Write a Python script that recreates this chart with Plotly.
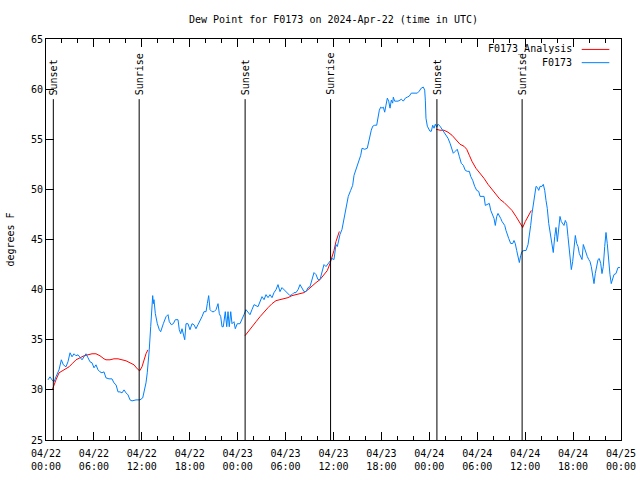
import pandas as pd
import plotly.graph_objects as go

# ---------------- data ----------------
START = "2024-04-22 00:00"
END = "2024-04-25 00:00"

# observed dew point (F0173): hours since 2024-04-22 00:00 UTC, degrees F
obs_hours = [0.25, 0.50, 0.75, 1.00, 1.25, 1.63, 1.92, 2.17, 2.50, 2.75, 3.01, 3.26, 3.51, 3.76, 4.01,
             4.26, 4.51, 4.76, 5.01, 5.26, 5.51, 5.76, 6.01, 6.26, 6.51, 6.76, 7.01, 7.26, 7.51, 7.89,
             8.26, 8.51, 8.77, 9.02, 9.27, 9.52, 9.77, 10.02, 10.27, 10.52, 10.77, 11.27, 11.77, 12.11,
             12.27, 12.52, 12.68, 12.86, 12.93, 13.11, 13.24, 13.36, 13.44, 13.52, 13.69, 13.94, 14.19,
             14.36, 14.69, 15.03, 15.28, 15.44, 15.69, 15.94, 16.19, 16.53, 16.69, 16.87, 17.03, 17.19,
             17.37, 17.53, 17.78, 18.03, 18.28, 18.53, 18.78, 19.03, 19.28, 19.53, 19.78, 20.04, 20.20,
             20.37, 20.54, 20.79, 21.04, 21.29, 21.54, 21.70, 21.88, 22.04, 22.20, 22.45, 22.63, 22.79,
             22.95, 23.13, 23.29, 23.54, 23.70, 23.95, 24.29, 24.54, 24.79, 25.04, 25.29, 25.54, 25.79,
             26.05, 26.30, 26.55, 27.05, 27.30, 27.55, 27.80, 28.05, 28.30, 28.55, 28.80, 29.05, 29.30,
             29.55, 29.80, 30.05, 30.30, 30.55, 30.80, 31.05, 31.30, 31.56, 31.81, 32.06, 32.31, 32.56,
             32.81, 33.06, 33.31, 33.56, 33.81, 34.06, 34.31, 34.56, 34.81, 35.06, 35.31, 35.56, 35.81,
             36.06, 36.19, 36.31, 36.48, 36.65, 36.81, 37.06, 37.23, 37.44, 37.65, 37.85, 38.15, 38.40,
             38.57, 38.73, 38.98, 39.23, 39.41, 39.57, 39.91, 40.23, 40.41, 40.57, 40.73, 40.91, 41.16,
             41.41, 41.57, 41.74, 41.91, 42.07, 42.24, 42.41, 42.57, 42.74, 42.91, 43.08, 43.24, 43.41,
             43.49, 43.66, 43.83, 44.08, 44.33, 44.49, 44.74, 44.99, 45.24, 45.49, 45.74, 45.99, 46.24,
             46.49, 46.74, 46.99, 47.25, 47.42, 47.50, 47.58, 47.75, 47.92, 48.08, 48.25, 48.42, 48.59,
             48.75, 48.93, 49.09, 49.34, 49.50, 49.84, 50.09, 50.34, 50.59, 50.84, 51.00, 51.25, 51.50,
             51.75, 52.00, 52.25, 52.50, 52.75, 53.01, 53.18, 53.43, 53.68, 53.93, 54.18, 54.35, 54.60,
             54.85, 55.01, 55.26, 55.51, 55.69, 55.94, 56.10, 56.26, 56.44, 56.60, 56.76, 56.94, 57.10,
             57.26, 57.44, 57.60, 57.76, 57.94, 58.19, 58.44, 58.60, 58.76, 58.94, 59.10, 59.27, 59.44,
             59.60, 59.85, 60.11, 60.36, 60.52, 60.69, 60.86, 61.02, 61.20, 61.36, 61.52, 61.70, 61.86,
             62.11, 62.27, 62.45, 62.61, 62.77, 62.95, 63.11, 63.27, 63.36, 63.52, 63.70, 63.86, 64.03,
             64.20, 64.36, 64.52, 64.70, 64.86, 65.03, 65.20, 65.36, 65.53, 65.70, 65.78, 65.95, 66.12,
             66.28, 66.45, 66.62, 66.78, 66.96, 67.12, 67.28, 67.46, 67.62, 67.78, 67.96, 68.12, 68.28,
             68.46, 68.62, 68.78, 68.96, 69.12, 69.28, 69.46, 69.62, 69.78, 69.96, 70.12, 70.28, 70.46,
             70.62, 70.78, 70.96, 71.12, 71.37, 71.62, 71.87]
obs_values = [31.0, 31.3, 31.0, 30.8, 31.3, 32.0, 33.0, 32.5, 32.3, 32.8, 33.7, 33.3, 33.6, 33.4, 33.5,
              33.2, 33.0, 33.3, 33.6, 33.2, 32.8, 32.7, 32.2, 32.5, 32.0, 31.8, 31.7, 31.8, 31.2, 31.1,
              31.1, 30.7, 30.5, 29.8, 29.8, 29.7, 30.0, 29.7, 29.5, 29.0, 28.9, 29.0, 29.0, 29.2,
              29.8, 30.7, 31.7, 33.0, 34.0, 36.3, 38.3, 39.4, 38.6, 39.0, 37.6, 36.6, 36.0,
              35.8, 36.6, 37.3, 37.5, 36.8, 36.5, 36.6, 37.0, 37.0, 36.0, 35.6, 36.1, 35.6,
              35.0, 36.6, 36.6, 36.0, 36.6, 36.5, 36.1, 36.5, 37.0, 37.3, 37.8, 37.8, 38.6,
              39.4, 38.0, 37.8, 37.8, 38.0, 38.6, 37.6, 37.3, 36.3, 36.3, 37.8, 36.3, 37.8,
              36.3, 37.8, 36.6, 36.8, 36.1, 36.6, 36.6, 37.0, 37.5, 38.0, 37.8, 37.5, 38.0,
              38.5, 38.4, 38.3, 39.3, 39.0, 39.5, 39.2, 39.5, 39.2, 39.7, 40.0, 40.5, 39.8,
              40.2, 40.0, 39.8, 39.7, 39.4, 39.5, 39.7, 39.7, 40.0, 40.5, 40.2, 39.8, 39.8,
              40.2, 40.3, 41.0, 41.7, 41.5, 41.0, 41.0, 41.8, 42.5, 42.3, 42.6, 42.8, 43.1,
              43.0, 43.8, 44.5, 44.3, 45.0, 45.5, 46.0, 46.8, 47.8, 48.6, 49.3, 49.9, 50.4,
              51.4, 51.8, 52.4, 52.9, 53.4, 54.1, 54.0, 54.1, 54.8, 55.3, 55.9, 56.3, 56.4,
              56.4, 57.1, 57.9, 58.2, 58.1, 58.2, 57.7, 58.4, 59.1, 58.8, 58.1, 58.9, 58.6,
              59.2, 58.8, 58.8, 58.8, 58.9, 59.0, 58.8, 59.1, 59.2, 59.3, 59.6, 59.6, 59.6,
              59.6, 59.8, 60.1, 60.2, 59.9, 58.9, 57.1, 56.3, 56.1, 55.8, 55.8, 56.4, 56.1,
              56.5, 56.2, 56.5, 56.3, 56.1, 55.8, 55.4, 55.1, 54.6, 54.1, 53.6, 53.8, 54.0,
              53.3, 52.6, 52.4, 51.9, 51.8, 51.8, 51.3, 50.9, 50.3, 49.9, 49.8, 49.3, 49.3,
              49.3, 48.4, 48.5, 48.6, 47.9, 47.5, 47.1, 46.4, 47.3, 47.6, 47.4, 47.1, 46.8,
              46.6, 46.4, 45.9, 45.6, 45.1, 44.6, 44.6, 44.9, 44.6, 43.9, 43.3, 42.7, 43.4,
              43.8, 43.9, 43.9, 44.5, 45.3, 46.4, 47.6, 48.4, 49.6, 50.3, 50.2, 49.9, 50.3,
              50.3, 50.5, 49.9, 48.9, 48.1, 46.6, 45.8, 45.4, 44.5, 43.7, 45.3, 46.2, 44.8,
              46.4, 47.3, 46.8, 46.6, 46.4, 46.9, 46.6, 45.3, 43.6, 42.5, 42.0, 42.8, 44.1,
              45.4, 44.6, 44.3, 43.6, 43.3, 43.0, 44.5, 44.0, 43.5, 43.3, 43.0, 42.8, 42.3,
              41.3, 40.6, 41.6, 42.5, 43.0, 43.1, 42.6, 41.6, 42.3, 44.3, 45.7, 44.6, 42.6,
              41.5, 40.6, 41.1, 41.5, 41.6, 42.2, 42.2]

# analysis (F0173_Analysis): three overnight segments
ana1_hours = [0.79, 1.00, 1.25, 1.63, 2.00, 2.50, 2.88, 3.26, 3.76, 4.26, 4.76, 5.26, 5.76, 6.26, 6.76,
              7.26, 7.51, 8.01, 8.51, 9.02, 9.52, 10.02, 10.52, 11.02, 11.43, 11.73, 12.02, 12.27,
              12.52, 12.77]
ana1_values = [30.0, 30.5, 31.0, 31.7, 31.9, 32.1, 32.3, 32.6, 33.0, 33.2, 33.4, 33.5, 33.6, 33.6, 33.4,
               33.1, 33.0, 33.0, 33.1, 33.1, 33.0, 32.9, 32.7, 32.5, 32.1, 31.9, 32.3, 33.0,
               33.6, 34.0]
ana2_hours = [24.92, 25.29, 25.79, 26.30, 26.80, 27.30, 27.80, 28.30, 28.80, 29.30, 29.80, 30.30, 30.80,
              31.30, 31.81, 32.31, 32.81, 33.31, 33.81, 34.31, 34.81, 35.22, 35.56, 35.81, 36.06,
              36.31, 36.56, 36.73]
ana2_values = [35.4, 35.8, 36.3, 36.8, 37.3, 37.8, 38.2, 38.6, 38.9, 39.0, 39.1, 39.2, 39.4,
               39.5, 39.6, 39.7, 40.0, 40.4, 40.7, 41.0, 41.5, 41.9, 42.6, 43.2, 43.9,
               44.8, 45.5, 45.8]
ana3_hours = [48.84, 49.34, 49.84, 50.34, 50.84, 51.34, 51.84, 52.34, 52.68, 53.01, 53.34, 53.84, 54.35,
              54.85, 55.35, 55.85, 56.35, 56.85, 57.35, 57.85, 58.35, 58.85, 59.35, 59.69, 60.02,
              60.36, 60.77]
ana3_values = [56.0, 55.9, 55.9, 55.7, 55.4, 54.9, 54.5, 54.3, 54.0, 53.4, 52.8, 52.1, 51.6,
               51.1, 50.5, 50.0, 49.4, 49.0, 48.7, 48.3, 47.9, 47.3, 46.7, 46.2, 46.8,
               47.3, 47.9]

# sun events (UTC)
sun_labels = ["Sunset", "Sunrise", "Sunset", "Sunrise", "Sunset", "Sunrise"]
sun_times = ["2024-04-22 00:55", "2024-04-22 11:40", "2024-04-23 00:56",
             "2024-04-23 11:38", "2024-04-24 00:57", "2024-04-24 11:37"]
sun_line_bottom = 25
sun_line_top = 59

# tick labels
tick_times = pd.date_range(START, END, freq="6h")
tick_text = [t.strftime("%m/%d") + "<br>" + t.strftime("%H:%M") for t in tick_times]
y_ticks = [25, 30, 35, 40, 45, 50, 55, 60, 65]

series_names = ["F0173_Analysis", "F0173"]
series_colors = ["#ff0000", "#0080ff"]

# ---------------- figure ----------------
base = pd.Timestamp(START)


def to_time(hours):
    return [base + pd.Timedelta(hours=h) for h in hours]


ana_x, ana_y = [], []
for hh, vv in [(ana1_hours, ana1_values), (ana2_hours, ana2_values), (ana3_hours, ana3_values)]:
    ana_x += to_time(hh) + [None]
    ana_y += vv + [None]

FONT = "DejaVu Sans Mono"
FS = 10

fig = go.Figure()
fig.add_trace(go.Scatter(x=ana_x, y=ana_y, mode="lines", name=series_names[0],
                         line=dict(color=series_colors[0], width=1), connectgaps=False,
                         showlegend=False))
fig.add_trace(go.Scatter(x=to_time(obs_hours), y=obs_values, mode="lines", name=series_names[1],
                         line=dict(color=series_colors[1], width=1), showlegend=False))

for lab, t in zip(sun_labels, sun_times):
    fig.add_shape(type="line", xref="x", yref="y", x0=t, x1=t, y0=sun_line_bottom, y1=sun_line_top,
                  line=dict(color="black", width=1))
    fig.add_annotation(x=t, y=sun_line_top, xref="x", yref="y", text=lab, textangle=-90,
                       showarrow=False, xanchor="center", yanchor="bottom", yshift=2,
                       font=dict(family=FONT, size=FS, color="black"))

# gnuplot-style legend (text right-aligned, sample line to the right)
leg_y = [0.974, 0.941]
for name, color, ly in zip(series_names, series_colors, leg_y):
    fig.add_annotation(x=0.9183, y=ly, xref="paper", yref="paper", text=name, showarrow=False,
                       xanchor="right", yanchor="middle", font=dict(family=FONT, size=FS, color="black"))
    fig.add_shape(type="line", xref="paper", yref="paper", x0=0.9317, x1=0.9797, y0=ly, y1=ly,
                  line=dict(color=color, width=1))

fig.update_layout(
    width=640, height=480,
    margin=dict(l=46, r=19, t=39, b=40, autoexpand=False),
    paper_bgcolor="white", plot_bgcolor="white",
    font=dict(family=FONT, size=FS, color="black"),
    title=dict(text="Dew Point for F0173 on 2024-Apr-22 (time in UTC)", x=0.5, xref="paper",
               y=1 - 19 / 480, yref="container", xanchor="center", yanchor="middle",
               font=dict(family=FONT, size=FS, color="black"), automargin=False),
    showlegend=False,
)
fig.update_xaxes(
    range=[pd.Timestamp(START), pd.Timestamp(END)], automargin=False,
    tickmode="array", tickvals=list(tick_times), ticktext=tick_text,
    ticks="inside", ticklen=8, tickcolor="black", tickwidth=1, ticklabelstandoff=4,
    minor=dict(ticks="inside", ticklen=4, dtick=2 * 3600 * 1000, tickcolor="black", showgrid=False),
    showline=True, linecolor="black", linewidth=1, mirror="allticks",
    showgrid=False, zeroline=False, tickfont=dict(family=FONT, size=FS),
)
fig.update_yaxes(
    range=[25, 65], tickmode="array", tickvals=y_ticks, automargin=False,
    ticks="inside", ticklen=8, tickcolor="black", tickwidth=1,
    showline=True, linecolor="black", linewidth=1, mirror="allticks",
    showgrid=False, zeroline=False, tickfont=dict(family=FONT, size=FS),
    title=dict(text="degrees F", font=dict(family=FONT, size=FS), standoff=14),
)

fig.write_html("out.html", config={"displayModeBar": False},
               post_script="document.body.style.margin='0';")
